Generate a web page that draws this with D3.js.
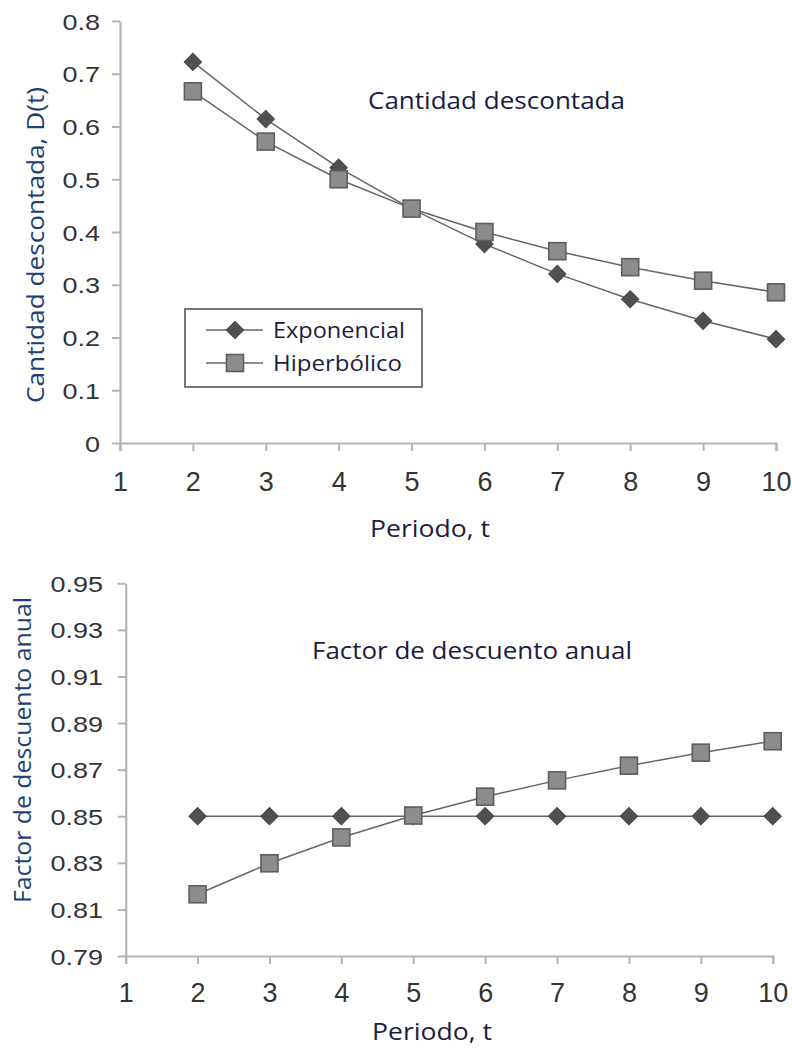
<!DOCTYPE html>
<html>
<head>
<meta charset="utf-8">
<script src="https://cdn.jsdelivr.net/npm/d3@7"></script>
<style>
html,body{margin:0;padding:0;background:#fff;}
svg{display:block;}
</style>
</head>
<body>
<svg id="chart" width="792" height="1048"></svg>
<script>
// ---- data ----
const periods = [2, 3, 4, 5, 6, 7, 8, 9, 10];
const xTicks = [1, 2, 3, 4, 5, 6, 7, 8, 9, 10];
const expAmount = [0.7225, 0.6141, 0.5220, 0.4437, 0.3771, 0.3206, 0.2725, 0.2316, 0.1969];
const hypAmount = [0.6667, 0.5714, 0.5000, 0.4444, 0.4000, 0.3636, 0.3333, 0.3077, 0.2857];
const expFactor = [0.85, 0.85, 0.85, 0.85, 0.85, 0.85, 0.85, 0.85, 0.85];
const hypFactor = [0.8165, 0.8298, 0.8409, 0.8503, 0.8584, 0.8654, 0.8717, 0.8773, 0.8822];
const topYTicks = [0, 0.1, 0.2, 0.3, 0.4, 0.5, 0.6, 0.7, 0.8];
const botYTicks = [0.79, 0.81, 0.83, 0.85, 0.87, 0.89, 0.91, 0.93, 0.95];
const seriesNames = ["Exponencial", "Hiperbólico"];

const svg = d3.select("#chart");
const axisColor = "#b4b4b4";
const lineColor = "#666";
const tickFont = "'Liberation Sans', Arial, sans-serif";
const labelFont = "'Open Sans', 'Noto Sans', sans-serif";
const titleColor = "#1c1c40";
const yTitleColor = "#213f72";

function diamond(g, x, y) {
  g.append("path")
    .attr("d", d3.symbol().type(d3.symbolSquare).size(150)())
    .attr("transform", `translate(${x},${y}) rotate(45)`)
    .attr("fill", "#505050").attr("stroke", "#474747").attr("stroke-width", 1);
}
function square(g, x, y) {
  g.append("rect")
    .attr("x", x - 8.5).attr("y", y - 8.5).attr("width", 17).attr("height", 17)
    .attr("fill", "#8c8c8c").attr("stroke", "#5e5e5e").attr("stroke-width", 1.6);
}

function label(g, txt, len, size, color) {
  return g.append("text").text(txt)
    .attr("text-anchor", "middle")
    .attr("textLength", len).attr("lengthAdjust", "spacingAndGlyphs")
    .attr("fill", color).style("font-family", labelFont).style("font-size", size + "px");
}

function drawPanel(cfg) {
  const g = svg.append("g");
  const x = d3.scaleLinear().domain([1, 10]).range([cfg.x0, cfg.x1]);
  const y = d3.scaleLinear().domain(cfg.yDomain).range([cfg.yBottom, cfg.yTop]);

  const ya = g.append("g").attr("transform", `translate(${cfg.x0},0)`)
    .call(d3.axisLeft(y).tickValues(cfg.yTicks).tickFormat(cfg.yFmt).tickSize(8).tickSizeOuter(0));
  ya.select(".domain").attr("stroke", axisColor).attr("stroke-width", 2.2);
  ya.selectAll(".tick line").attr("stroke", axisColor).attr("stroke-width", 2);
  ya.selectAll(".tick text")
    .attr("x", 0).attr("dy", "0.36em")
    .attr("transform", `translate(${cfg.yLabelEnd - cfg.x0},0) scale(1.2,1)`)
    .attr("text-anchor", "end")
    .attr("fill", "#333").style("font-family", tickFont).style("font-size", "22.5px");

  const xa = g.append("g").attr("transform", `translate(0,${cfg.yBottom})`)
    .call(d3.axisBottom(x).tickValues(xTicks).tickFormat(d3.format("d")).tickSize(8).tickSizeOuter(8));
  xa.select(".domain").attr("stroke", axisColor).attr("stroke-width", 2.2);
  xa.selectAll(".tick line").attr("stroke", axisColor).attr("stroke-width", 2);
  xa.selectAll(".tick text")
    .attr("y", cfg.xLabelBase - cfg.yBottom).attr("dy", 0)
    .attr("fill", "#333").style("font-family", tickFont).style("font-size", "27px");

  const line = d3.line().x((d, i) => x(periods[i])).y(d => y(d));
  const series = [
    { vals: cfg.exp, marker: diamond },
    { vals: cfg.hyp, marker: square }
  ];
  series.forEach(s => {
    g.append("path").datum(s.vals).attr("d", line)
      .attr("fill", "none").attr("stroke", lineColor).attr("stroke-width", cfg.lw);
  });
  series.forEach(s => {
    s.vals.forEach((v, i) => s.marker(g, x(periods[i]), y(v)));
  });

  label(g, "Periodo, t", 120, 23, titleColor)
    .attr("x", cfg.xTitleX).attr("y", cfg.xTitleY);
  label(g, cfg.yTitle, cfg.yTitleLen, 23, yTitleColor)
    .attr("transform", `translate(${cfg.yTitleX},${cfg.yTitleY}) rotate(-90)`);
  label(g, cfg.title, cfg.titleLen, 23, titleColor)
    .attr("x", cfg.titleX).attr("y", cfg.titleY);
  return { g, x, y };
}

const topPanel = drawPanel({
  x0: 120, x1: 776, yTop: 21, yBottom: 443, yDomain: [0, 0.8], yTicks: topYTicks,
  yFmt: d => d === 0 ? "0" : d3.format(".1f")(d), yLabelEnd: 100, xLabelBase: 491,
  exp: expAmount, hyp: hypAmount, lw: 1.5,
  xTitleX: 430, xTitleY: 537,
  yTitle: "Cantidad descontada, D(t)", yTitleX: 44, yTitleY: 245, yTitleLen: 316,
  title: "Cantidad descontada", titleX: 496.5, titleY: 109, titleLen: 257
});

const bottomPanel = drawPanel({
  x0: 125.7, x1: 772.7, yTop: 583.3, yBottom: 956, yDomain: [0.79, 0.95], yTicks: botYTicks,
  yFmt: d3.format(".2f"), yLabelEnd: 103, xLabelBase: 1002,
  exp: expFactor, hyp: hypFactor, lw: 1.5,
  xTitleX: 432, xTitleY: 1040,
  yTitle: "Factor de descuento anual", yTitleX: 31, yTitleY: 750, yTitleLen: 306,
  title: "Factor de descuento anual", titleX: 472, titleY: 659, titleLen: 320
});

const lg = svg.append("g");
lg.append("rect").attr("x", 185).attr("y", 309).attr("width", 237).attr("height", 78)
  .attr("fill", "#fff").attr("stroke", "#555").attr("stroke-width", 1.6);
const legendRows = [
  { name: seriesNames[0], marker: diamond, cy: 330, len: 132 },
  { name: seriesNames[1], marker: square, cy: 363, len: 129 }
];
legendRows.forEach(r => {
  lg.append("line").attr("x1", 206).attr("x2", 263).attr("y1", r.cy).attr("y2", r.cy)
    .attr("stroke", lineColor).attr("stroke-width", 1.5);
  r.marker(lg, 235, r.cy);
  lg.append("text").text(r.name).attr("x", 273).attr("y", r.cy).attr("dy", "0.36em")
    .attr("textLength", r.len).attr("lengthAdjust", "spacingAndGlyphs")
    .attr("fill", titleColor).style("font-family", labelFont).style("font-size", "21px");
});
</script>
</body>
</html>
